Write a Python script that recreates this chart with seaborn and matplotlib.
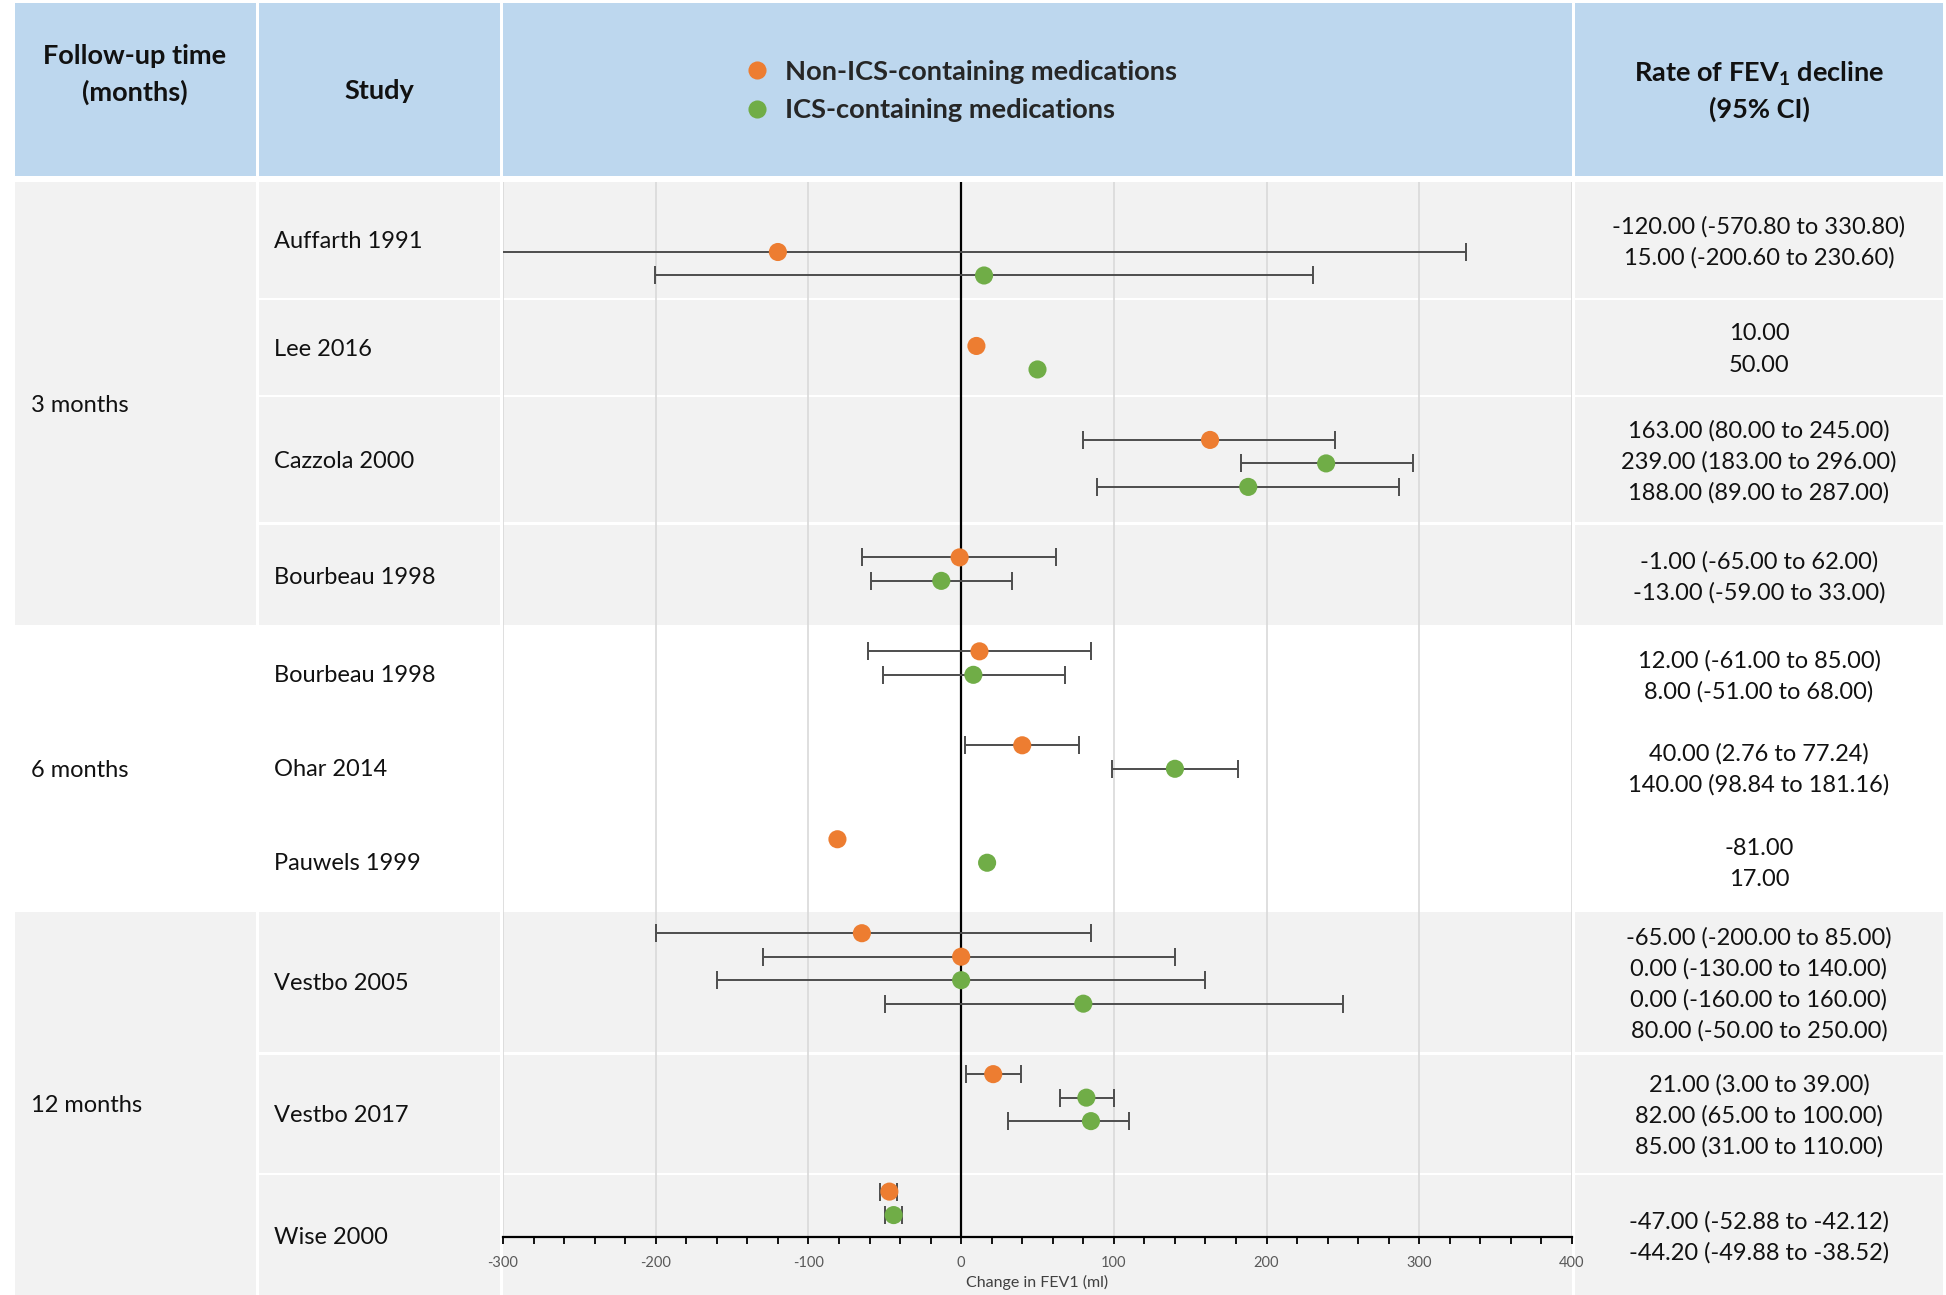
"""Forest plot of FEV1 change by follow-up time, laid out like the Excel table figure."""

import numpy as np
import pandas as pd
import matplotlib.pyplot as plt
from matplotlib.patches import Rectangle
from matplotlib.ticker import MultipleLocator, FormatStrFormatter
import seaborn as sns

# ---- data ----
NON = "Non-ICS-containing medications"
ICS = "ICS-containing medications"

periods = ["3 months", "6 months", "12 months"]
studies = ["Auffarth 1991", "Lee 2016", "Cazzola 2000", "Bourbeau 1998",
           "Bourbeau 1998", "Ohar 2014", "Pauwels 1999",
           "Vestbo 2005", "Vestbo 2017", "Wise 2000"]
study_period = [0, 0, 0, 0, 1, 1, 1, 2, 2, 2]

point_study = [0, 0, 1, 1, 2, 2, 2, 3, 3, 4, 4, 5, 5, 6, 6,
               7, 7, 7, 7, 8, 8, 8, 9, 9]
point_group = [NON, ICS, NON, ICS, NON, ICS, ICS, NON, ICS, NON, ICS, NON, ICS, NON, ICS,
               NON, NON, ICS, ICS, NON, ICS, ICS, NON, ICS]
estimate = [-120.0, 15.0, 10.0, 50.0, 163.0, 239.0, 188.0, -1.0, -13.0, 12.0, 8.0,
            40.0, 140.0, -81.0, 17.0, -65.0, 0.0, 0.0, 80.0, 21.0, 82.0, 85.0,
            -47.0, -44.2]
ci_low = [-570.8, -200.6, np.nan, np.nan, 80.0, 183.0, 89.0, -65.0, -59.0, -61.0, -51.0,
          2.76, 98.84, np.nan, np.nan, -200.0, -130.0, -160.0, -50.0, 3.0, 65.0, 31.0,
          -52.88, -49.88]
ci_high = [330.8, 230.6, np.nan, np.nan, 245.0, 296.0, 287.0, 62.0, 33.0, 85.0, 68.0,
           77.24, 181.16, np.nan, np.nan, 85.0, 140.0, 160.0, 250.0, 39.0, 100.0, 110.0,
           -42.12, -38.52]

# ---- layout (pixels of the 1946x1295 canvas) ----
W, H = 1946, 1295
COL_X = [(15, 256), (259, 500), (503, 1572), (1575, 1943)]
HEADER_Y = (3, 176)
ROW_Y = [(182, 298), (300, 395), (397, 522), (525, 625),
         (627, 721), (721, 814), (814, 910),
         (912, 1052), (1055, 1173), (1175, 1295)]
PLOT_Y = (182, 1237)      # top of table body -> x-axis line
FIRST_SLOT_Y = 252        # pixel row of the first point
SLOT_PX = 23.49           # vertical distance between points
LINE_PX = 31              # line spacing in the value column

HEADER_BLUE = "#bdd7ee"
BODY_GRAY = "#f2f2f2"
ORANGE = "#ed7d31"
GREEN = "#70ad47"
TEXT = "#111111"

sns.set_theme(style="white")
plt.rcParams["font.family"] = ["Lato", "DejaVu Sans"]
plt.rcParams["axes.unicode_minus"] = False
plt.rcParams["mathtext.fontset"] = "custom"
plt.rcParams["mathtext.bf"] = "Lato:bold"
plt.rcParams["mathtext.rm"] = "Lato"

df = pd.DataFrame({
    "study": point_study,
    "group": point_group,
    "estimate": estimate,
    "lo": ci_low,
    "hi": ci_high,
})
# each study gets two empty slots before the next one
df["slot"] = np.arange(len(df)) + 2 * df["study"]

fig = plt.figure(figsize=(W / 100, H / 100), dpi=100)

# ---- table background ----
bg = fig.add_axes([0, 0, 1, 1])
bg.set_xlim(0, W)
bg.set_ylim(H, 0)
bg.axis("off")

for x0, x1 in COL_X:
    bg.add_patch(Rectangle((x0, HEADER_Y[0]), x1 - x0, HEADER_Y[1] - HEADER_Y[0],
                           color=HEADER_BLUE, lw=0))

for p, name in enumerate(periods):
    rows = [ROW_Y[i] for i, sp in enumerate(study_period) if sp == p]
    top, bottom = rows[0][0], rows[-1][1]
    if p != 1:
        bg.add_patch(Rectangle((COL_X[0][0], top), COL_X[0][1] - COL_X[0][0], bottom - top,
                               color=BODY_GRAY, lw=0))
        for y0, y1 in rows:
            for x0, x1 in COL_X[1:]:
                bg.add_patch(Rectangle((x0, y0), x1 - x0, y1 - y0, color=BODY_GRAY, lw=0))
    bg.text(31, (top + bottom) / 2 + 2, name, ha="left", va="center", fontsize=17, color=TEXT)

for i, name in enumerate(studies):
    y0, y1 = ROW_Y[i]
    yc = (y0 + y1) / 2 + 2
    bg.text(274, yc, name, ha="left", va="center", fontsize=17, color=TEXT)
    sub = df[df["study"] == i]
    n = len(sub)
    for j, (_, r) in enumerate(sub.iterrows()):
        if np.isnan(r["lo"]):
            label = f"{r['estimate']:.2f}"
        else:
            label = f"{r['estimate']:.2f} ({r['lo']:.2f} to {r['hi']:.2f})"
        bg.text(1759, yc + (j - (n - 1) / 2) * LINE_PX, label,
                ha="center", va="center", fontsize=17, color=TEXT)

# header texts
bg.text(135, 56, "Follow-up time", ha="center", va="center", fontsize=19.5,
        fontweight="bold", color=TEXT)
bg.text(135, 92, "(months)", ha="center", va="center", fontsize=19.5,
        fontweight="bold", color=TEXT)
bg.text(379, 91, "Study", ha="center", va="center", fontsize=19.5,
        fontweight="bold", color=TEXT)
bg.text(1759, 74, r"Rate of FEV$_{\mathbf{1}}$ decline", ha="center", va="center",
        fontsize=19.5, fontweight="bold", color=TEXT)
bg.text(1759, 109, "(95% CI)", ha="center", va="center", fontsize=19.5,
        fontweight="bold", color=TEXT)

# ---- forest plot ----
ax = fig.add_axes([COL_X[2][0] / W, 1 - PLOT_Y[1] / H,
                   (COL_X[2][1] - COL_X[2][0]) / W, (PLOT_Y[1] - PLOT_Y[0]) / H])
ax.set_facecolor("none")

ci = df.dropna(subset=["lo"])
ax.errorbar(ci["estimate"], ci["slot"],
            xerr=[ci["estimate"] - ci["lo"], ci["hi"] - ci["estimate"]],
            fmt="none", ecolor="#4d4d4d", elinewidth=1.4, capsize=6.5, capthick=1.4,
            zorder=3)
sns.scatterplot(data=df, x="estimate", y="slot", hue="group", hue_order=[NON, ICS],
                palette={NON: ORANGE, ICS: GREEN}, s=170, linewidth=0, ax=ax, zorder=4)
ax.axvline(0, color="black", lw=1.6, zorder=2)

ax.set_xlim(-300, 400)
ax.set_ylim((PLOT_Y[1] - FIRST_SLOT_Y) / SLOT_PX, -(FIRST_SLOT_Y - PLOT_Y[0]) / SLOT_PX)
ax.xaxis.set_major_locator(MultipleLocator(100))
ax.xaxis.set_minor_locator(MultipleLocator(20))
ax.xaxis.set_major_formatter(FormatStrFormatter("%d"))
ax.grid(axis="x", which="major", color="#d9d9d9", lw=1.2)
ax.set_axisbelow(True)
ax.set_yticks([])
ax.set_ylabel("")
for side in ["top", "left", "right"]:
    ax.spines[side].set_visible(False)
ax.spines["bottom"].set_color("black")
ax.spines["bottom"].set_linewidth(1.6)
ax.tick_params(axis="x", which="both", direction="out", length=5, width=1.3,
               color="black", bottom=True, labelsize=10.5, labelcolor="#595959", pad=9)
ax.set_xlabel("Change in FEV1 (ml)", fontsize=11.5, color="#404040", labelpad=3)

handles, labels = ax.get_legend_handles_labels()
ax.legend(handles, labels, loc="center left", bbox_to_anchor=(743 / W, 1 - 91 / H),
          bbox_transform=fig.transFigure, frameon=False,
          prop={"weight": "bold", "size": 19.6}, handlelength=1.0, handletextpad=0.55,
          labelspacing=0.55, borderpad=0, borderaxespad=0)

fig.savefig("out.png", dpi=100, facecolor="white")
